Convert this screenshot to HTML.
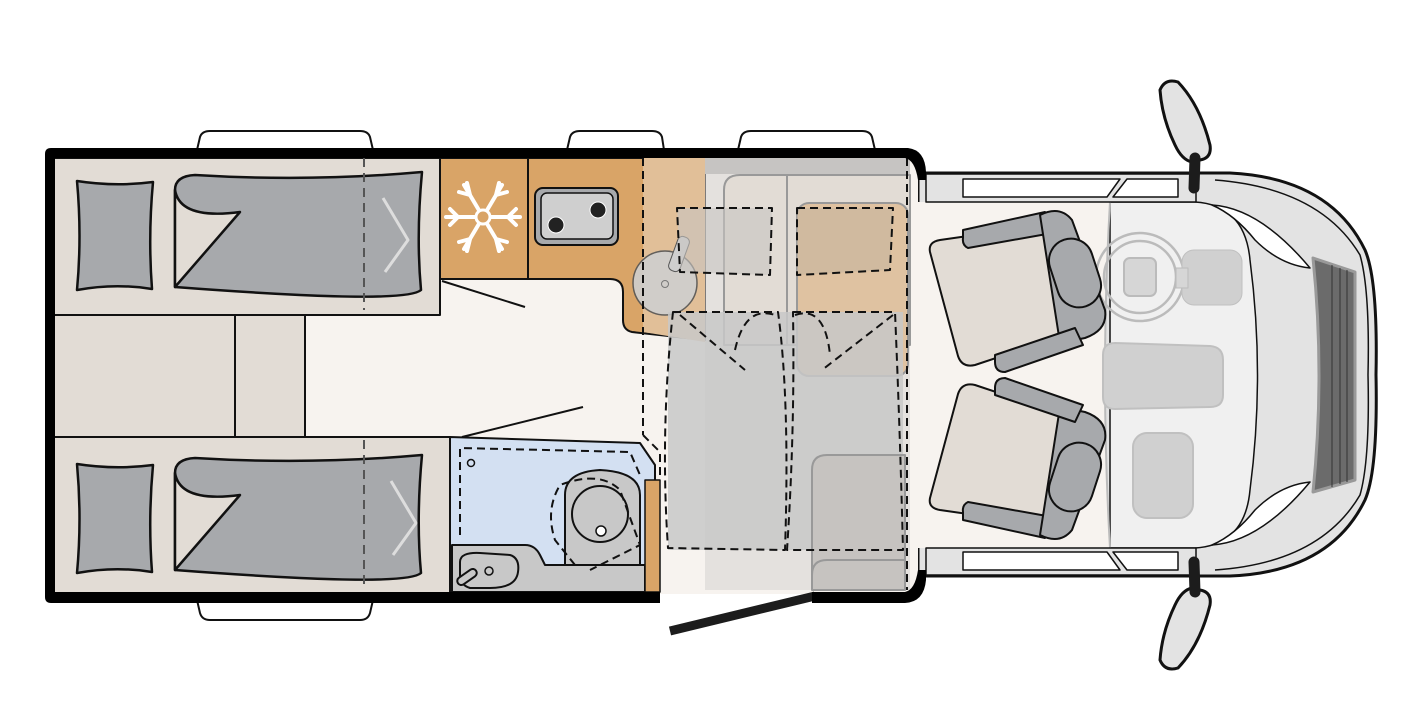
<!DOCTYPE html>
<html><head><style>body{margin:0;background:#fff}svg{display:block}</style></head><body>
<svg width="1421" height="722" viewBox="0 0 1421 722" xmlns="http://www.w3.org/2000/svg" stroke-linejoin="round">
<g fill="#fff" stroke="#111" stroke-width="2">
<path d="M197 150 L200 137 Q202 131 210 131 L360 131 Q368 131 370 137 L373 150Z"/>
<path d="M567 150 L570 137 Q572 131 580 131 L652 131 Q660 131 662 137 L664 150Z"/>
<path d="M738 150 L741 137 Q743 131 751 131 L862 131 Q870 131 872 137 L875 150Z"/>
<path d="M197 600 L200 613 Q202 620 210 620 L360 620 Q368 620 370 613 L373 600Z"/>
</g>
<path d="M918 173 L1230 173 Q1330 178 1365 250 Q1378 280 1376 375 Q1378 470 1365 500 Q1330 572 1230 576 L918 576Z" fill="#e3e3e3" stroke="#111" stroke-width="3"/>
<path d="M1215 180 Q1320 188 1360 255 Q1370 290 1368 375 Q1370 460 1360 495 Q1320 563 1215 570" fill="none" stroke="#111" stroke-width="1.5"/>
<path d="M1110 202 L1195 202 Q1245 205 1250 260 Q1265 375 1250 490 Q1245 545 1195 548 L1110 548Z" fill="#f0f0f0" stroke="#111" stroke-width="1.5"/>
<path d="M1212 205 Q1260 208 1310 268 Q1280 265 1255 240 Q1235 215 1212 205Z" fill="#fff" stroke="#111" stroke-width="1.5"/>
<path d="M1212 545 Q1260 542 1310 482 Q1280 485 1255 510 Q1235 535 1212 545Z" fill="#fff" stroke="#111" stroke-width="1.5"/>
<path d="M1313 258 L1355 272 L1355 480 L1313 492 Q1325 375 1313 258Z" fill="#6b6b6b" stroke="#999" stroke-width="3"/>
<g stroke="#333" stroke-width="1"><line x1="1332" y1="265" x2="1332" y2="487"/><line x1="1340" y1="268" x2="1340" y2="484"/><line x1="1347" y1="270" x2="1347" y2="482"/></g>
<path d="M918 202 L1110 202 Q1100 375 1110 548 L918 548Z" fill="#f7f3ef"/>
<path d="M1110 202 Q1100 375 1110 548" fill="none" stroke="#bbb" stroke-width="2"/>
<g fill="#e3e3e3" stroke="#111" stroke-width="1.5">
<rect x="926" y="174" width="270" height="28"/>
<rect x="926" y="548" width="270" height="27"/>
</g>
<g fill="#fff" stroke="#111" stroke-width="1.5">
<path d="M963 179 L1120 179 L1107 197 L963 197Z"/><path d="M1127 179 L1178 179 L1178 197 L1113 197Z"/>
<path d="M963 552 L1107 552 L1120 570 L963 570Z"/><path d="M1113 552 L1178 552 L1178 570 L1127 570Z"/>
</g>
<g fill="#e3e3e3" stroke="#111" stroke-width="3">
<path d="M1160 90 Q1165 78 1178 82 Q1200 105 1210 145 Q1212 158 1200 160 L1192 162 Q1182 160 1175 145 Q1162 118 1160 90Z"/>
<path d="M1160 660 Q1165 672 1178 668 Q1200 645 1210 605 Q1212 592 1200 590 L1192 588 Q1182 590 1175 605 Q1162 632 1160 660Z"/>
</g>
<g stroke="#1c1c1c" stroke-width="11" stroke-linecap="round"><line x1="1195" y1="158" x2="1194" y2="188"/><line x1="1195" y1="592" x2="1194" y2="562"/></g>
<g fill="none" stroke="#bbb" stroke-width="2.5">
<circle cx="1140" cy="277" r="44"/><circle cx="1140" cy="277" r="36"/>
</g>
<rect x="1182" y="250" width="60" height="55" rx="12" fill="#d0d0d0" stroke="#c0c0c0"/>
<rect x="1176" y="268" width="12" height="20" fill="#d6d6d6" stroke="#bbb"/>
<rect x="1124" y="258" width="32" height="38" rx="6" fill="#d6d6d6" stroke="#bbb" stroke-width="2"/>
<path d="M1103 355 Q1103 343 1115 343 L1210 346 Q1223 347 1223 360 L1223 395 Q1223 407 1210 407 L1115 409 Q1103 409 1103 397Z" fill="#d0d0d0" stroke="#c0c0c0" stroke-width="2"/>
<rect x="1133" y="433" width="60" height="85" rx="14" fill="#d0d0d0" stroke="#c0c0c0" stroke-width="2"/>
<g stroke="#111" stroke-width="2">
<g>
<path d="M930 252 Q928 242 940 240 L1045 225 L1080 330 L975 365 Q962 368 958 356Z" fill="#e2dcd5"/>
<path d="M963 230 L1045 212 L1058 232 L968 248 Q962 245 963 238Z" fill="#a7a9ac"/>
<path d="M1040 215 Q1060 205 1072 220 L1105 310 Q1108 330 1085 338 L1060 343 Z" fill="#a7a9ac"/>
<path d="M995 355 L1075 328 L1083 345 L1005 372 Q995 372 995 362Z" fill="#a7a9ac"/>
<rect x="1053" y="238" width="44" height="70" rx="22" transform="rotate(-18 1075 273)" fill="#a7a9ac"/>
</g>
<g>
<path d="M930 498 Q928 508 940 510 L1045 525 L1080 420 L975 385 Q962 382 958 394Z" fill="#e2dcd5"/>
<path d="M963 520 L1045 538 L1058 518 L968 502 Q962 505 963 512Z" fill="#a7a9ac"/>
<path d="M1040 535 Q1060 545 1072 530 L1105 440 Q1108 420 1085 412 L1060 407 Z" fill="#a7a9ac"/>
<path d="M995 395 L1075 422 L1083 405 L1005 378 Q995 378 995 388Z" fill="#a7a9ac"/>
<rect x="1053" y="442" width="44" height="70" rx="22" transform="rotate(18 1075 477)" fill="#a7a9ac"/>
</g>
</g>
<rect x="53" y="158" width="865" height="436" fill="#f7f3ef"/>
<g stroke="#111" stroke-width="2">
<rect x="54" y="158" width="386" height="157" fill="#e2dcd5"/>
<rect x="54" y="315" width="181" height="122" fill="#e2dcd5"/>
<rect x="235" y="315" width="70" height="122" fill="#e2dcd5"/>
<rect x="54" y="437" width="396" height="157" fill="#e2dcd5"/>
</g>
<g stroke="#111" stroke-width="2.5" fill="#a7a9ac">
<path d="M77 181 Q115 187 153 182 Q148 236 152 289 Q115 283 77 290 Q82 236 77 181Z"/>
<path d="M175 190 Q175 176 195 175 Q310 182 422 172 Q416 236 421 290 Q410 300 300 295 Q240 292 175 287Z"/>
<path d="M175 190 Q180 220 240 212 L175 287Z" fill="#e2dcd5"/>
<path d="M77 464 Q115 470 153 465 Q148 519 152 572 Q115 566 77 573 Q82 519 77 464Z"/>
<path d="M175 473 Q175 459 195 458 Q310 465 422 455 Q416 519 421 573 Q410 583 300 578 Q240 575 175 570Z"/>
<path d="M175 473 Q180 503 240 495 L175 570Z" fill="#e2dcd5"/>
</g>
<g fill="none" stroke="#ddd" stroke-width="3"><path d="M383 198 L408 240 L385 272"/><path d="M391 481 L416 523 L393 555"/></g>
<g stroke="#555" stroke-width="2" stroke-dasharray="9 6"><line x1="364" y1="158" x2="364" y2="310"/><line x1="364" y1="440" x2="364" y2="590"/></g>
<rect x="440" y="158" width="88" height="121" fill="#d9a467" stroke="#111" stroke-width="2"/>
<g stroke="#fff" stroke-width="4" stroke-linecap="round" fill="none">
<line x1="446" y1="217" x2="520" y2="217"/><line x1="464" y1="185" x2="502" y2="249"/><line x1="464" y1="249" x2="502" y2="185"/>
<path d="M450 209 L458 217 L450 225 M516 209 L508 217 L516 225"/>
<path d="M459 192 L470 195 L467 183 M507 192 L496 195 L499 183"/>
<path d="M459 242 L470 239 L467 251 M507 242 L496 239 L499 251"/>
</g>
<circle cx="483" cy="217" r="7" fill="#d9a467" stroke="#fff" stroke-width="3"/>
<path d="M528 158 L705 158 L705 340 L632 332 Q623 330 623 320 L623 292 Q623 279 610 279 L528 279Z" fill="#d9a467" stroke="#111" stroke-width="2"/>
<path d="M643 158 L705 158 L705 342 L643 332Z" fill="#e1bf98"/>
<rect x="535" y="188" width="83" height="57" rx="8" fill="#a7a9ac" stroke="#111" stroke-width="2"/>
<rect x="541" y="193" width="72" height="46" rx="6" fill="#cfcfcf" stroke="#111" stroke-width="1.5"/>
<circle cx="556" cy="225" r="8" fill="#222" stroke="#fff" stroke-width="1"/><circle cx="598" cy="210" r="8" fill="#222" stroke="#fff" stroke-width="1"/>
<circle cx="665" cy="283" r="32" fill="#cfcfcf" stroke="#555" stroke-width="1.5" opacity=".9"/>
<rect x="673" y="236" width="12" height="36" rx="5" transform="rotate(20 679 254)" fill="#cfcfcf" stroke="#555"/>
<circle cx="665" cy="284" r="3.5" fill="none" stroke="#777"/>
<path d="M705 158 L910 158 L910 590 L705 590Z" fill="#d5d2cf" opacity=".55"/>
<rect x="705" y="158" width="205" height="16" fill="#c6c4c2"/>
<path d="M724 345 L724 190 Q724 175 740 175 L910 175 L910 345Z" fill="#e2dcd5" stroke="#999" stroke-width="2"/>
<line x1="787" y1="175" x2="787" y2="345" stroke="#999" stroke-width="2"/>
<rect x="797" y="203" width="111" height="173" rx="12" fill="#dfc2a1" stroke="#999" stroke-width="2"/>
<rect x="668" y="312" width="235" height="238" fill="#c8c8c8" opacity=".85"/>
<path d="M812 590 L812 470 Q812 455 827 455 L905 455 L905 590Z" fill="#c6c3c0" stroke="#999" stroke-width="2"/>
<path d="M812 590 L812 575 Q812 560 827 560 L905 560" fill="none" stroke="#999" stroke-width="2"/>
<g fill="none" stroke="#111" stroke-width="2" stroke-dasharray="8 5">
<path d="M677 208 L772 208 L770 275 L680 272Z" fill="#c8c5c2" fill-opacity=".6"/>
<path d="M797 208 L893 208 L890 270 L797 275Z" fill="#c6b49f" fill-opacity=".6"/>
<path d="M673 312 L778 312 Q790 400 785 550 L668 548 Q660 430 673 312Z"/>
<path d="M793 312 L895 312 Q900 430 903 550 L787 550 Q795 430 793 312Z"/>
<line x1="680" y1="315" x2="745" y2="370"/><line x1="893" y1="315" x2="822" y2="370"/>
<path d="M735 350 Q745 305 775 315"/><path d="M795 315 Q825 305 830 355"/>
<line x1="643" y1="158" x2="643" y2="435"/><path d="M643 435 L660 452 L660 480"/>
<line x1="907" y1="158" x2="907" y2="590"/>
</g>
<path d="M450 437 L640 443 L655 465 L655 592 L450 592Z" fill="#d3e0f2" stroke="#111" stroke-width="2"/>
<path d="M452 545 L525 545 Q535 545 540 555 L545 565 L645 565 L645 592 L452 592Z" fill="#c8c8c8" stroke="#111" stroke-width="2"/>
<path d="M460 562 Q460 552 480 553 L510 555 Q520 558 518 572 Q516 588 490 588 L470 588 Q460 585 460 575Z" fill="#c8c8c8" stroke="#111" stroke-width="2"/>
<rect x="456" y="573" width="22" height="8" rx="4" transform="rotate(-35 467 577)" fill="#c8c8c8" stroke="#111" stroke-width="2"/>
<circle cx="489" cy="571" r="4" fill="none" stroke="#111" stroke-width="1.5"/>
<path d="M565 565 L565 495 Q565 472 600 470 Q640 472 640 495 L640 565Z" fill="#c8c8c8" stroke="#111" stroke-width="2"/>
<circle cx="600" cy="514" r="28" fill="#c8c8c8" stroke="#111" stroke-width="2"/>
<circle cx="601" cy="531" r="5" fill="#fff" stroke="#111" stroke-width="1.5"/>
<circle cx="471" cy="463" r="3.5" fill="none" stroke="#111" stroke-width="1.5"/>
<g fill="none" stroke="#111" stroke-width="2" stroke-dasharray="8 5">
<path d="M460 535 L460 448 L630 452 L640 475"/>
<path d="M575 565 L555 540 Q545 510 560 485 Q600 470 620 490 L640 545 L590 570"/>
</g>
<rect x="645" y="480" width="15" height="112" fill="#d9a467" stroke="#111" stroke-width="1.5"/>
<g stroke="#111" stroke-width="2"><line x1="442" y1="281" x2="525" y2="307"/><line x1="462" y1="437" x2="583" y2="407"/></g>
<line x1="670" y1="631" x2="815" y2="596" stroke="#1c1c1c" stroke-width="9"/>
<g fill="#000">
<path d="M45 154 Q45 148 51 148 L908 148 Q925 150 926 172 L926 180 L918 180 Q915 160 905 158 L55 158 L55 592 L660 592 L660 603 L51 603 Q45 603 45 597Z"/>
<path d="M812 592 L905 592 Q915 590 918 570 L926 570 L926 580 Q924 602 905 603 L812 603Z"/>
</g>
</svg>
</body></html>
